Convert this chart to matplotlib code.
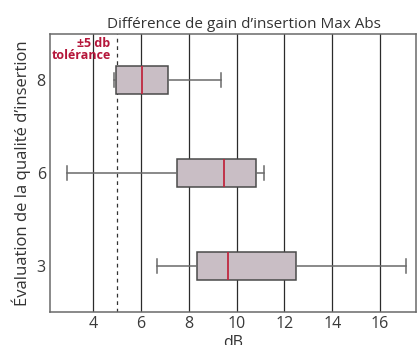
import numpy as np
import matplotlib.pyplot as plt

plt.rcParams['font.family'] = ['Open Sans', 'DejaVu Sans']

# box statistics (dB)
ratings = ['8', '6', '3']
whislo = [4.88, 2.91, 6.66]
q1 = [4.95, 7.49, 8.34]
med = [6.03, 9.47, 9.63]
q3 = [7.15, 10.83, 12.50]
whishi = [9.33, 11.15, 17.10]
tolerance = 5

stats = []
for i, r in enumerate(ratings):
    stats.append({
        'label': r, 'whislo': whislo[i], 'q1': q1[i], 'med': med[i],
        'q3': q3[i], 'whishi': whishi[i], 'fliers': []
    })

fig = plt.figure(figsize=(4.17, 3.45), dpi=100)
ax = fig.add_axes([0.12, 0.0957, 0.8776, 0.8057])

positions = np.arange(len(ratings))
ax.bxp(
    stats, positions=positions, vert=False, widths=0.3, patch_artist=True,
    boxprops=dict(facecolor='#c9bec5', edgecolor='#4a4a4a', linewidth=1.1),
    medianprops=dict(color='#c0283f', linewidth=1.3),
    whiskerprops=dict(color='#6a6a6a', linewidth=1.1),
    capprops=dict(color='#6a6a6a', linewidth=1.1),
    zorder=3
)

ax.set_ylim(len(ratings) - 0.5, -0.5)
ax.set_xlim(2.2, 17.5)
ax.set_xticks([4, 6, 8, 10, 12, 14, 16])
ax.grid(axis='x', color='#2b2b2b', linewidth=0.9)
ax.set_axisbelow(True)
ax.axvline(tolerance, color='#333333', linestyle=(0, (3, 3)), linewidth=0.9, zorder=2)

ax.text(tolerance - 0.27, -0.47, '±5 db\ntolérance', color='#b5163a',
        fontsize=9, fontweight='bold', ha='right', va='top', linespacing=0.9)

ax.tick_params(length=0, labelsize=11.5, colors='#3a3a3a', pad=3)
for s in ax.spines.values():
    s.set_color('#6a6a6a')
    s.set_linewidth(1.1)

ax.set_title('Différence de gain d’insertion Max Abs', fontsize=11,
             color='#333333', x=0.53, pad=4)
ax.set_xlabel('dB', fontsize=11.5, color='#333333', labelpad=2)
ax.set_ylabel('Évaluation de la qualité d’insertion', fontsize=12,
              color='#333333', labelpad=4)

fig.savefig('out.png', dpi=100)
